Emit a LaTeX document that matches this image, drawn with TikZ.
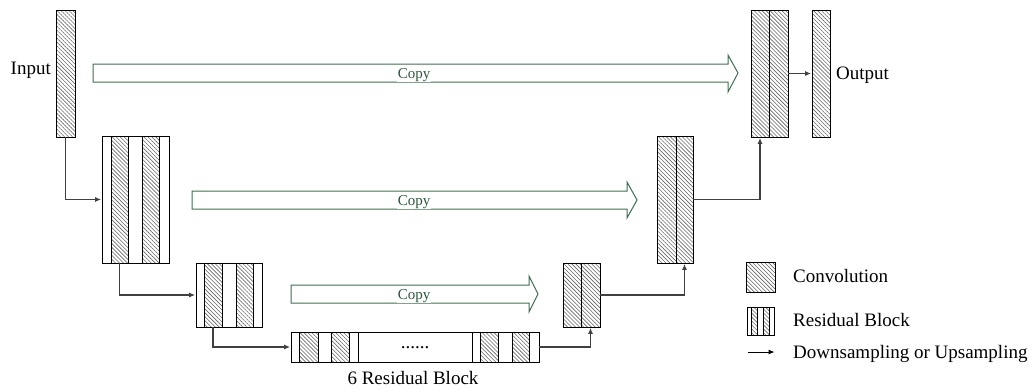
\documentclass[tikz,border=0pt]{standalone}
\usepackage{fontspec}
\setmainfont{Liberation Serif}
\usetikzlibrary{patterns.meta,arrows.meta,fit}
\definecolor{copygreen}{RGB}{62,110,80}
\definecolor{copytext}{RGB}{40,88,58}
\tikzset{
  hatch/.style={pattern={Lines[angle=-45,distance=2.8pt,line width=0.6pt]},pattern color=black!60},
  conv/.style={draw=black,line width=0.9pt,hatch,inner sep=0pt},
  resframe/.style={draw=black,line width=0.9pt,inner sep=0pt},
  conn/.style={draw=black!75,line width=1.2pt,-{Latex[length=6pt,width=5pt]},shorten >=0.4pt},
  copyarrow/.style={draw=copygreen,line width=1pt},
  copylabel/.style={fill=white,text=copytext,font=\fontsize{15}{15}\selectfont,inner sep=1pt,anchor=base},
  lbl/.style={font=\fontsize{19}{19}\selectfont,inner sep=0pt},
}
\newcommand\blk[6]{\node[#2,fit={(#3,#4)(#5,#6)}] (#1) {};}
\begin{document}
\begin{tikzpicture}[x=1pt,y=-1pt]
\useasboundingbox (0,0) rectangle (1030,389);

% encoder
\blk{in}{conv}{56}{10}{75}{137}
\blk{r1}{resframe}{102}{136}{169}{263}
\blk{r1a}{conv}{111}{136}{128}{263}
\blk{r1b}{conv}{142}{136}{159}{263}
\blk{r2}{resframe}{196}{263}{262}{327}
\blk{r2a}{conv}{204}{263}{222}{327}
\blk{r2b}{conv}{236}{263}{253}{327}

% bottleneck chain
\blk{chain}{resframe}{291}{332}{539}{362}
\blk{ca}{resframe}{291}{332}{358}{362}
\blk{caa}{conv}{299}{332}{318}{362}
\blk{cab}{conv}{331}{332}{349}{362}
\blk{cb}{resframe}{472}{332}{539}{362}
\blk{cba}{conv}{480}{332}{498}{362}
\blk{cbb}{conv}{512}{332}{529}{362}
\node[lbl,anchor=base] (dots) at (415,348) {......};
\node[lbl,anchor=base] (chainlbl) at (413,384) {6 Residual Block};

% decoder
\blk{u1a}{conv}{563}{263}{581}{327}
\blk{u1b}{conv}{581}{263}{600}{327}
\blk{u2a}{conv}{657}{136}{676}{263}
\blk{u2b}{conv}{676}{136}{693}{263}
\blk{u3a}{conv}{751}{10}{769}{137}
\blk{u3b}{conv}{769}{10}{788}{137}
\blk{out}{conv}{812}{10}{830}{137}

\node[lbl,anchor=base east] (inlbl) at (51,74) {Input};
\node[lbl,anchor=base west] (outlbl) at (836,79) {Output};

% connectors
\draw[conn] (in.south) |- (r1.west);
\draw[conn] (r1a.south) |- (r2.west);
\draw[conn] (r2a.south) |- (chain.west);
\draw[conn] (chain.east) -| (u1b.south);
\draw[conn] (u1b.east) -| (u2b.south);
\draw[conn] (u2b.east) -| (u3a.south);
\draw[conn] (u3b.east) -- (out.west);

% copy arrows
\draw[copyarrow] (93,64) -- (728,64) -- (728,55) -- (738,73) -- (728,92) -- (728,82) -- (93,82) -- cycle;
\node[copylabel] (copy1) at (414,78) {Copy};
\draw[copyarrow] (192,191) -- (627,191) -- (627,182) -- (637,200) -- (627,218) -- (627,209) -- (192,209) -- cycle;
\node[copylabel] (copy2) at (414,205) {Copy};
\draw[copyarrow] (291,285) -- (529,285) -- (529,276) -- (538,294) -- (529,312) -- (529,303) -- (291,303) -- cycle;
\node[copylabel] (copy3) at (414,299) {Copy};

% legend
\blk{lconv}{conv}{746}{262}{775}{292}
\blk{lres}{resframe}{747}{307}{774}{335}
\blk{lresa}{conv}{751}{307}{757}{335}
\blk{lresb}{conv}{763}{307}{769}{335}
\coordinate (la1) at (748,352);
\coordinate (la2) at (775,352);
\draw[conn,draw=black,line width=1pt] (la1) -- (la2);
\node[lbl,anchor=base west] (t1) at (793,282) {Convolution};
\node[lbl,anchor=base west] (t2) at (793,326) {Residual Block};
\node[lbl,anchor=base west] (t3) at (793,358) {Downsampling or Upsampling};
\end{tikzpicture}
\end{document}
